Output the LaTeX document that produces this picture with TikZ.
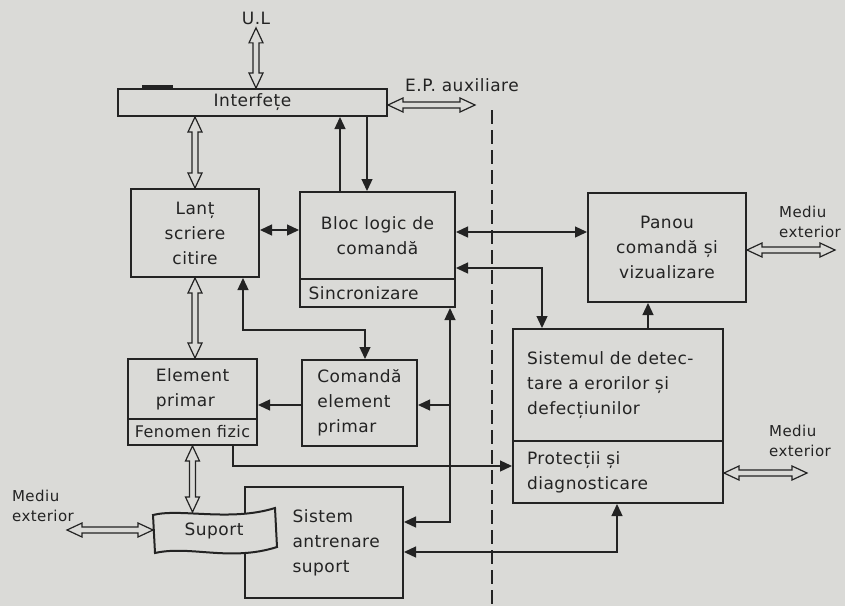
\documentclass[tikz,border=0pt]{standalone}
\usepackage{fontspec}
\setmainfont{DejaVu Sans}[LetterSpace=3]
\usepackage{tikz}
\usetikzlibrary{arrows.meta,calc}
\definecolor{paper}{RGB}{218,218,215}
\definecolor{ink}{RGB}{35,35,35}
\newcommand\hollowh[2]{\draw[fatarr] let \p1=#1, \p2=#2 in
  (\x1,\y1) -- (\x1+15pt,\y1+7pt) -- (\x1+15pt,\y1+3pt) -- (\x2-15pt,\y1+3pt) -- (\x2-15pt,\y1+7pt) -- (\x2,\y1)
  -- (\x2-15pt,\y1-7pt) -- (\x2-15pt,\y1-3pt) -- (\x1+15pt,\y1-3pt) -- (\x1+15pt,\y1-7pt) -- cycle;}
\newcommand\hollowv[2]{\draw[fatarr] let \p1=#1, \p2=#2 in
  (\x1,\y1) -- (\x1+7pt,\y1-15pt) -- (\x1+3pt,\y1-15pt) -- (\x1+3pt,\y2+15pt) -- (\x1+7pt,\y2+15pt) -- (\x1,\y2)
  -- (\x1-7pt,\y2+15pt) -- (\x1-3pt,\y2+15pt) -- (\x1-3pt,\y1-15pt) -- (\x1-7pt,\y1-15pt) -- cycle;}

\begin{document}
\begin{tikzpicture}[x=1pt,y=-1pt,font=\fontsize{17}{25}\selectfont,color=ink,
  blk/.style={draw=ink,line width=2pt,align=center,inner sep=2pt},
  small/.style={align=left,font=\fontsize{15}{20}\selectfont},
  fatarr/.style={draw=ink,fill=paper,line width=1.2pt,line join=miter},
  arr/.style={line width=1.3pt,-{Triangle[length=12pt,width=11pt]}},
  arrs/.style={line width=1.3pt,{Triangle[length=12pt,width=11pt]}-{Triangle[length=12pt,width=11pt]}}]
\path[use as bounding box,fill=paper] (0,0) rectangle (845,606);

\draw[line width=1.3pt,dash pattern=on 14pt off 6pt] (492,110) -- (492,606);

\node[blk,minimum width=269pt,minimum height=27pt] (interf) at (252.5,102.5) {Interfețe};
\fill (142,85) rectangle (173,89);
\node (ul) at (256,18) {U.L};
\node (ep) at (462,85) {E.P. auxiliare};
\coordinate (epend) at (475,105);

\node[blk,minimum width=128pt,minimum height=88pt] (lant) at (195,233) {Lanț\\scriere\\citire};
\node[blk,minimum width=155pt,minimum height=87pt] (bloc) at (377.5,235.5) {Bloc logic de\\comandă};
\node[blk,minimum width=155pt,minimum height=28pt,text width=138pt,align=left] (sincr) at (377.5,293) {Sincronizare};
\node[blk,minimum width=158pt,minimum height=109pt] (panou) at (667,247.5) {Panou\\comandă și\\vizualizare};
\node[blk,minimum width=210pt,minimum height=112pt,text width=182pt,align=left] (detect) at (618,385) {Sistemul de detec-\\tare a erorilor și\\defecțiunilor};
\node[blk,minimum width=210pt,minimum height=62pt,text width=182pt,align=left] (protect) at (618,472) {Protecții și\\diagnosticare};
\node[blk,minimum width=115pt,minimum height=86pt,align=left] (comel) at (359.5,403) {Comandă\\element\\primar};
\node[blk,minimum width=129pt,minimum height=60pt,align=left] (elem) at (192.5,389) {Element\\primar};
\node[blk,minimum width=129pt,minimum height=26pt,font=\fontsize{16}{20}\selectfont] (fenom) at (192.5,432) {Fenomen fizic};
\node[blk,minimum width=158pt,minimum height=111pt,
  label={[name=antrtxt,anchor=west,xshift=45pt,align=left]west:Sistem\\antrenare\\suport}] (antr) at (324,542.5) {};

\draw[fill=paper,line width=2pt] (153,515) .. controls (180,508) and (230,522) .. (275,508) -- (277,547)
  .. controls (230,562) and (190,545) .. (155,553) -- cycle;
\node (suport) at (214,531) {Suport};
\coordinate (suptop) at (192,512);
\coordinate (supleft) at (153,530);

\node[small] (medl) at (43,506) {Mediu\\exterior};
\coordinate (medlend) at (67,530);
\node[small] (medr1) at (810,222) {Mediu\\exterior};
\coordinate (medr1end) at (835,250);
\node[small] (medr2) at (800,441) {Mediu\\exterior};
\coordinate (medr2end) at (807,473);

\hollowv{(ul.south)}{(ul.south |- interf.north)}
\hollowh{([yshift=-2.5pt]interf.east)}{(epend)}
\hollowv{(interf.south -| lant)}{(lant.north)}
\hollowv{(lant.south)}{(lant.south |- elem.north)}
\hollowv{(fenom.south)}{(fenom.south |- suptop)}
\hollowh{(medlend)}{(supleft)}
\hollowh{([yshift=-2.5pt]panou.east)}{(medr1end)}
\hollowh{([yshift=-1pt]protect.east)}{(medr2end)}

\draw[arr] ([xshift=-37.5pt]bloc.north) -- ([xshift=-37.5pt]bloc.north |- interf.south);
\draw[arr] ([xshift=-10.5pt]bloc.north |- interf.south) -- ([xshift=-10.5pt]bloc.north);
\draw[arrs] ([yshift=3pt]lant.east) -- ([yshift=3pt]lant.east -| bloc.west);
\draw[arrs] ([yshift=3.5pt]bloc.east) -- ([yshift=3.5pt]bloc.east -| panou.west);
\draw[arrs] ([yshift=-32.5pt]bloc.east) -| ([xshift=-76pt]detect.north);
\coordinate (lantjog) at (243,330);
\draw[arrs] (lantjog |- lant.south) -- (lantjog) -| ([xshift=5.5pt]comel.north);
\coordinate (trunk) at (450,405);
\draw[arrs] (trunk |- sincr.south) |- ([yshift=20.5pt]antr.east);
\draw[arr] (trunk) -- (trunk -| comel.east);
\draw[arr] (trunk -| comel.west) -- (trunk -| elem.east);
\draw[arr] ([xshift=40.5pt]fenom.south) |- ([yshift=6pt]protect.west);
\draw[arrs] ([yshift=-9.5pt]antr.east) -| ([xshift=-1pt]protect.south);
\draw[arr] ([xshift=30pt]detect.north) -- ([xshift=30pt]detect.north |- panou.south);
\end{tikzpicture}
\end{document}
